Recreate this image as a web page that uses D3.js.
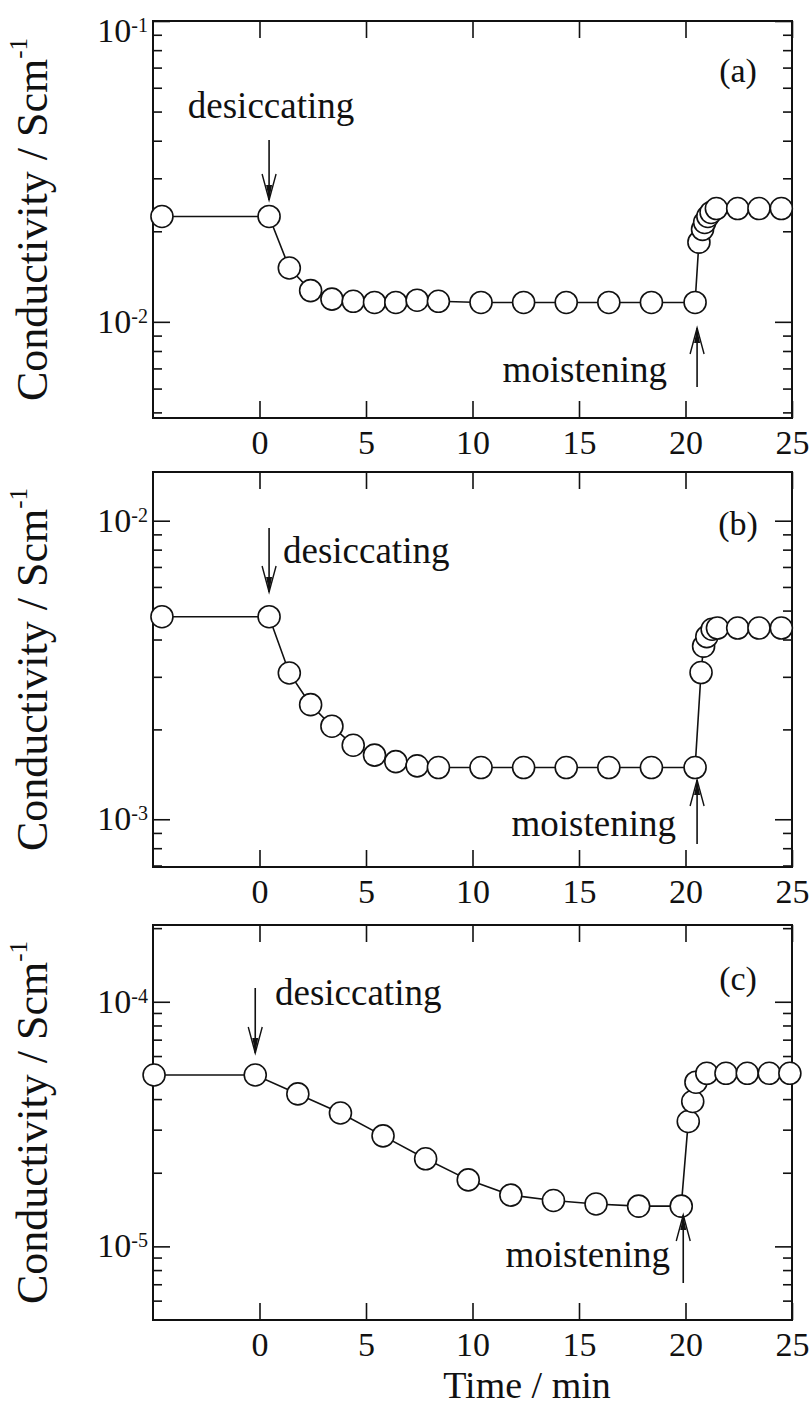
<!DOCTYPE html>
<html>
<head>
<meta charset="utf-8">
<script src="https://cdn.jsdelivr.net/npm/d3@7"></script>
<style>
  body { margin: 0; background: #fff; }
  svg text { font-family: "Liberation Serif", "Times New Roman", serif; fill: #111; }
</style>
</head>
<body>
<div class="chart"></div>
<script>
const W = 811, H = 1415;
const plotLeft = 153, plotRight = 792;

const xTicks = [0, 5, 10, 15, 20, 25];
const panelNames = ["(a)", "(b)", "(c)"];

// (a) conductivity vs time, S/cm
const timeA = [-4.58, 0.45, 1.4, 2.4, 3.4, 4.4, 5.4, 6.4, 7.4, 8.4, 10.4, 12.4, 14.4, 16.4, 18.4, 20.45,
  20.63, 20.8, 20.9, 21.05, 21.2, 21.45, 22.45, 23.45, 24.5];
const condA = [0.0224, 0.0224, 0.0151, 0.0127, 0.0119, 0.0117, 0.0116, 0.0116, 0.0118, 0.0117, 0.0116, 0.0116, 0.0116, 0.0116, 0.0116, 0.0116,
  0.0184, 0.0203, 0.0214, 0.0224, 0.0231, 0.0238, 0.0238, 0.0238, 0.0238];

// (b)
const timeB = [-4.58, 0.45, 1.4, 2.4, 3.4, 4.4, 5.4, 6.4, 7.4, 8.4, 10.4, 12.4, 14.4, 16.4, 18.4, 20.45,
  20.73, 20.85, 21.0, 21.25, 21.5, 22.45, 23.45, 24.5];
const condB = [0.00477, 0.00477, 0.00309, 0.00242, 0.00205, 0.00177, 0.00164, 0.00156, 0.00151, 0.00149, 0.00149, 0.00149, 0.00149, 0.00149, 0.00149, 0.00149,
  0.0031, 0.0038, 0.00409, 0.00433, 0.00437, 0.00437, 0.00437, 0.00437];

// (c)
const timeC = [-4.95, -0.2, 1.8, 3.8, 5.8, 7.8, 9.8, 11.8, 13.8, 15.8, 17.8, 19.8,
  20.13, 20.34, 20.49, 21.0, 21.9, 22.9, 23.93, 24.9];
const condC = [5.02e-5, 5.02e-5, 4.2e-5, 3.51e-5, 2.83e-5, 2.28e-5, 1.87e-5, 1.62e-5, 1.54e-5, 1.49e-5, 1.46e-5, 1.46e-5,
  3.24e-5, 3.91e-5, 4.69e-5, 5.1e-5, 5.1e-5, 5.1e-5, 5.1e-5, 5.1e-5];

// y ranges and decade exponents labelled on each panel
const yDomains = [[0.00479, 0.1], [0.000692, 0.01456], [5.0e-6, 2.06e-4]];
const decadeExps = [[-1, -2], [-2, -3], [-4, -5]];

// when the sample was dried / wetted again
const dryTimes = [0.45, 0.45, -0.2];
const wetTimes = [20.45, 20.45, 19.8];

// panel placement and annotation spots (y relative to panel top)
const panels = [
  { top: 21, h: 397, time: timeA, cond: condA,
    dryText: [271, 97, "middle"], dryArrow: [119, 179], wetText: [667, 361], wetArrow: [307, 366] },
  { top: 472, h: 395, time: timeB, cond: condB,
    dryText: [283, 91, "start"], dryArrow: [56, 120], wetText: [676, 364], wetArrow: [308, 372] },
  { top: 925, h: 395, time: timeC, cond: condC,
    dryText: [275, 80, "start"], dryArrow: [63, 128], wetText: [670, 342], wetArrow: [290, 358] }
];

const svg = d3.select(".chart").append("svg")
  .attr("width", W)
  .attr("height", H);

const x = d3.scaleLinear().domain([-5, 25]).range([plotLeft, plotRight]);

function arrow(g, ax, y0, y1) {
  // shaft from y0 to tip y1; head points toward y1
  const dir = y1 > y0 ? 1 : -1;
  g.append("line")
    .attr("x1", ax).attr("x2", ax)
    .attr("y1", y0).attr("y2", y1)
    .attr("stroke", "#111").attr("stroke-width", 1.6);
  g.append("path")
    .attr("d", `M${ax - 7},${y1 - dir * 26} L${ax},${y1} L${ax + 7},${y1 - dir * 26}`)
    .attr("fill", "none").attr("stroke", "#111").attr("stroke-width", 1.4);
  g.append("path")
    .attr("d", `M${ax - 3},${y1 - dir * 15} L${ax},${y1} L${ax + 3},${y1 - dir * 15} Z`)
    .attr("fill", "#111");
}

panels.forEach((p, i) => {
  const g = svg.append("g").attr("transform", `translate(0,${p.top})`);
  const y = d3.scaleLog().domain(yDomains[i]).range([p.h, 0]);

  // minor ticks at m*10^k inside the domain
  const yTicks = [];
  const [lo, hi] = yDomains[i];
  for (let k = Math.floor(Math.log10(lo)); k <= Math.ceil(Math.log10(hi)); k++) {
    for (let m = 1; m <= 9; m++) {
      const v = m * Math.pow(10, k);
      if (v >= lo * 1.0001 && v <= hi * 1.0001) yTicks.push(v);
    }
  }
  const isMajor = v => Math.abs(Math.log10(v) - Math.round(Math.log10(v))) < 1e-6;

  g.append("g")
    .attr("class", "axis y-left")
    .attr("transform", `translate(${plotLeft},0)`)
    .call(d3.axisRight(y).tickValues(yTicks).tickFormat(""))
    .call(a => a.select(".domain").remove())
    .selectAll(".tick line")
    .attr("x2", d => isMajor(d) ? 17 : 9);

  g.append("g")
    .attr("class", "axis y-right")
    .attr("transform", `translate(${plotRight},0)`)
    .call(d3.axisLeft(y).tickValues(yTicks).tickFormat(""))
    .call(a => a.select(".domain").remove())
    .selectAll(".tick line")
    .attr("x2", d => isMajor(d) ? -17 : -9);

  g.append("g")
    .attr("class", "axis x-bottom")
    .attr("transform", `translate(0,${p.h})`)
    .call(d3.axisBottom(x).tickValues(xTicks).tickSizeInner(-17).tickSizeOuter(0).tickPadding(12))
    .call(a => a.select(".domain").remove())
    .selectAll("text")
    .attr("font-size", 34);

  g.append("g")
    .attr("class", "axis x-top")
    .call(d3.axisTop(x).tickValues(xTicks).tickSizeInner(-17).tickSizeOuter(0).tickFormat(""))
    .call(a => a.select(".domain").remove());

  g.selectAll(".axis line").attr("stroke", "#111").attr("stroke-width", 1.6);
  g.selectAll(".axis text").attr("fill", "#111").attr("font-family", "Liberation Serif");

  // frame
  g.append("rect")
    .attr("x", plotLeft).attr("y", 0)
    .attr("width", plotRight - plotLeft).attr("height", p.h)
    .attr("fill", "none").attr("stroke", "#111").attr("stroke-width", 2);

  // decade labels 10^n
  decadeExps[i].forEach(e => {
    let yy = y(Math.pow(10, e));
    if (yy < 5) yy += 10;
    const t = g.append("text")
      .attr("x", plotLeft - 5).attr("y", yy + 11)
      .attr("text-anchor", "end")
      .attr("font-size", 34);
    t.append("tspan").text("10");
    t.append("tspan").attr("font-size", 20).attr("dy", -10).text(String(e));
  });

  // y title
  const cy = p.h / 2;
  const yt = g.append("text")
    .attr("transform", `translate(47,${cy}) rotate(-90)`)
    .attr("text-anchor", "middle")
    .attr("font-size", 44);
  yt.append("tspan").text("Conductivity / Scm");
  yt.append("tspan").attr("font-size", 25).attr("dy", -20).text("-1");

  // panel tag
  g.append("text")
    .attr("x", 738).attr("y", [61, 63, 65][i])
    .attr("text-anchor", "middle")
    .attr("font-size", 34)
    .text(panelNames[i]);

  // data
  const pts = p.time.map((t, j) => ({ t, v: p.cond[j] }));
  g.append("path")
    .datum(pts)
    .attr("fill", "none")
    .attr("stroke", "#111")
    .attr("stroke-width", 1.6)
    .attr("d", d3.line().x(d => x(d.t)).y(d => y(d.v)));

  g.selectAll(".pt")
    .data(pts)
    .enter()
    .append("circle")
    .attr("class", "pt")
    .attr("cx", d => x(d.t))
    .attr("cy", d => y(d.v))
    .attr("r", 11)
    .attr("fill", "#fff")
    .attr("stroke", "#111")
    .attr("stroke-width", 1.6);

  // annotations
  const dx = x(dryTimes[i]);
  arrow(g, dx, p.dryArrow[0], p.dryArrow[1]);
  g.append("text")
    .attr("x", p.dryText[0]).attr("y", p.dryText[1])
    .attr("text-anchor", p.dryText[2])
    .attr("font-size", 37)
    .text("desiccating");

  const wx = x(wetTimes[i]) + 2;
  arrow(g, wx, p.wetArrow[1], p.wetArrow[0]);
  g.append("text")
    .attr("x", p.wetText[0]).attr("y", p.wetText[1])
    .attr("text-anchor", "end")
    .attr("font-size", 37)
    .text("moistening");
});

svg.append("text")
  .attr("x", 527).attr("y", 1398)
  .attr("text-anchor", "middle")
  .attr("font-size", 38)
  .text("Time / min");
</script>
</body>
</html>
